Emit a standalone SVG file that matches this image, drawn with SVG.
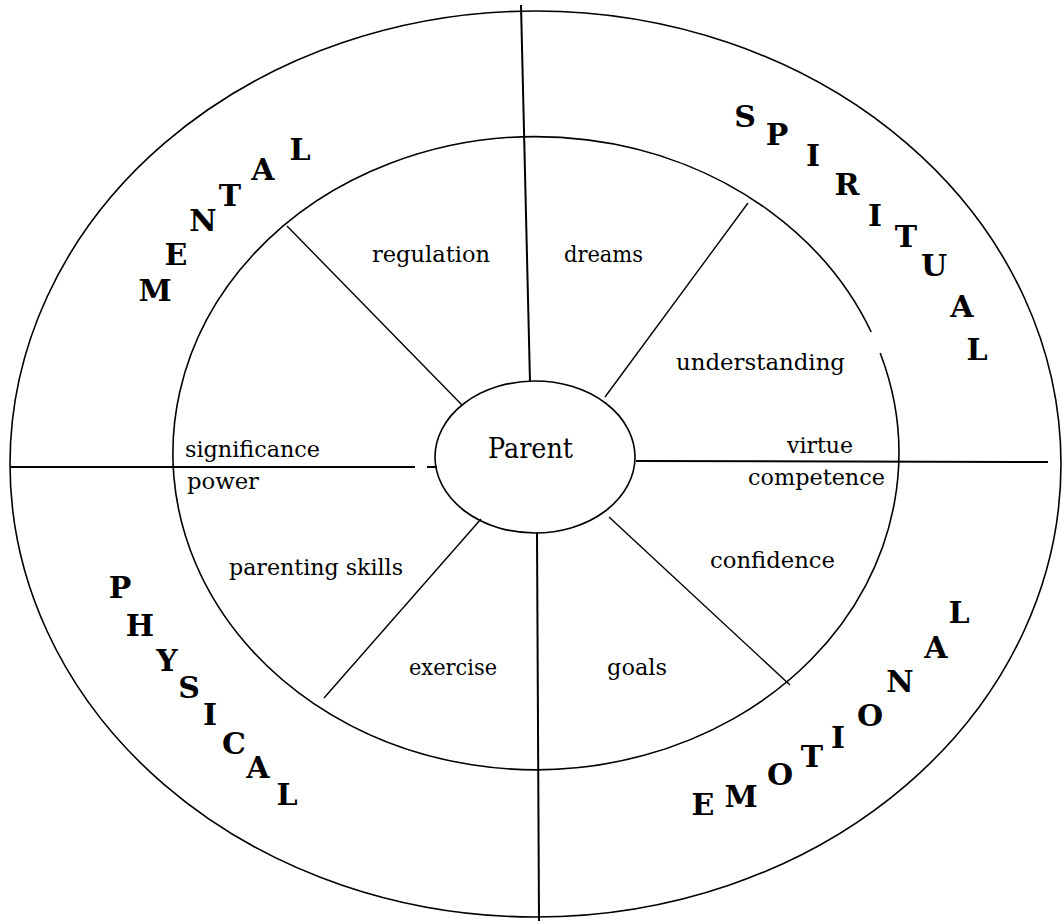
<svg xmlns="http://www.w3.org/2000/svg" width="1063" height="922" viewBox="0 0 1063 922">
<style>
.ring{fill:none;stroke:#000;stroke-width:1.6}
.axis{fill:none;stroke:#000;stroke-width:2}
.spoke{fill:none;stroke:#000;stroke-width:1.4}
.lbl{font-family:"DejaVu Serif","Liberation Serif",serif;font-size:21.5px;fill:#000}
.big{font-family:"DejaVu Serif","Liberation Serif",serif;font-size:30px;font-weight:bold;fill:#000;text-anchor:middle}
.ctr{font-family:"DejaVu Serif","Liberation Serif",serif;font-size:28px;fill:#000}
</style>
<rect width="1063" height="922" fill="#fff"/>
<g id="outer-ring">
<ellipse class="ring" cx="535.5" cy="464" rx="525.5" ry="453"/>
</g>
<g id="inner-ring">
<path class="ring" d="M 880.2 353 A 363 316.5 0 1 1 871.2 332"/>
</g>
<g id="connectors">
<line class="axis" x1="521" y1="5" x2="530" y2="382"/>
<line class="axis" x1="537" y1="533" x2="539" y2="921"/>
<line class="axis" x1="10" y1="467" x2="415" y2="467"/>
<line class="axis" x1="427" y1="467" x2="437" y2="467"/>
<line class="axis" x1="636" y1="461" x2="1048" y2="462"/>
<line class="spoke" x1="287" y1="226" x2="462" y2="405"/>
<line class="spoke" x1="748" y1="203" x2="605" y2="397"/>
<line class="spoke" x1="609" y1="517" x2="790" y2="685"/>
<line class="spoke" x1="481" y1="519" x2="324" y2="698"/>
</g>
<g id="parent">
<ellipse class="ring" cx="535" cy="457" rx="100" ry="76" fill="#fff"/>
<text class="ctr" x="488" y="458" textLength="85" lengthAdjust="spacingAndGlyphs">Parent</text>
</g>
<g id="labels">
<text class="lbl" x="372" y="262" textLength="118" lengthAdjust="spacingAndGlyphs">regulation</text>
<text class="lbl" x="564" y="262" textLength="79" lengthAdjust="spacingAndGlyphs">dreams</text>
<text class="lbl" x="676" y="370" textLength="169" lengthAdjust="spacingAndGlyphs">understanding</text>
<text class="lbl" x="185" y="457" textLength="135" lengthAdjust="spacingAndGlyphs">significance</text>
<text class="lbl" x="187" y="489" textLength="72" lengthAdjust="spacingAndGlyphs">power</text>
<text class="lbl" x="787" y="453" textLength="66" lengthAdjust="spacingAndGlyphs">virtue</text>
<text class="lbl" x="748" y="485" textLength="137" lengthAdjust="spacingAndGlyphs">competence</text>
<text class="lbl" x="229" y="575" textLength="174" lengthAdjust="spacingAndGlyphs">parenting skills</text>
<text class="lbl" x="710" y="568" textLength="125" lengthAdjust="spacingAndGlyphs">confidence</text>
<text class="lbl" x="409" y="675" textLength="88" lengthAdjust="spacingAndGlyphs">exercise</text>
<text class="lbl" x="607" y="675" textLength="60" lengthAdjust="spacingAndGlyphs">goals</text>
</g>
<g id="mental">
<text class="big" x="155" y="301">M</text>
<text class="big" x="176" y="265">E</text>
<text class="big" x="203" y="231">N</text>
<text class="big" x="230" y="206">T</text>
<text class="big" x="263" y="180">A</text>
<text class="big" x="300" y="160">L</text>
</g>
<g id="spiritual">
<text class="big" x="745" y="127">S</text>
<text class="big" x="777" y="145">P</text>
<text class="big" x="813" y="166">I</text>
<text class="big" x="847" y="195">R</text>
<text class="big" x="875" y="226">I</text>
<text class="big" x="906" y="247">T</text>
<text class="big" x="934" y="276">U</text>
<text class="big" x="962" y="317">A</text>
<text class="big" x="977" y="360">L</text>
</g>
<g id="physical">
<text class="big" x="120" y="598">P</text>
<text class="big" x="140" y="636">H</text>
<text class="big" x="167" y="671">Y</text>
<text class="big" x="189" y="698">S</text>
<text class="big" x="210" y="725">I</text>
<text class="big" x="234" y="754">C</text>
<text class="big" x="258" y="778">A</text>
<text class="big" x="287" y="805">L</text>
</g>
<g id="emotional">
<text class="big" x="703" y="815">E</text>
<text class="big" x="741" y="807">M</text>
<text class="big" x="780" y="785">O</text>
<text class="big" x="812" y="767">T</text>
<text class="big" x="838" y="748">I</text>
<text class="big" x="870" y="726">O</text>
<text class="big" x="900" y="692">N</text>
<text class="big" x="936" y="658">A</text>
<text class="big" x="959" y="623">L</text>
</g>
</svg>
